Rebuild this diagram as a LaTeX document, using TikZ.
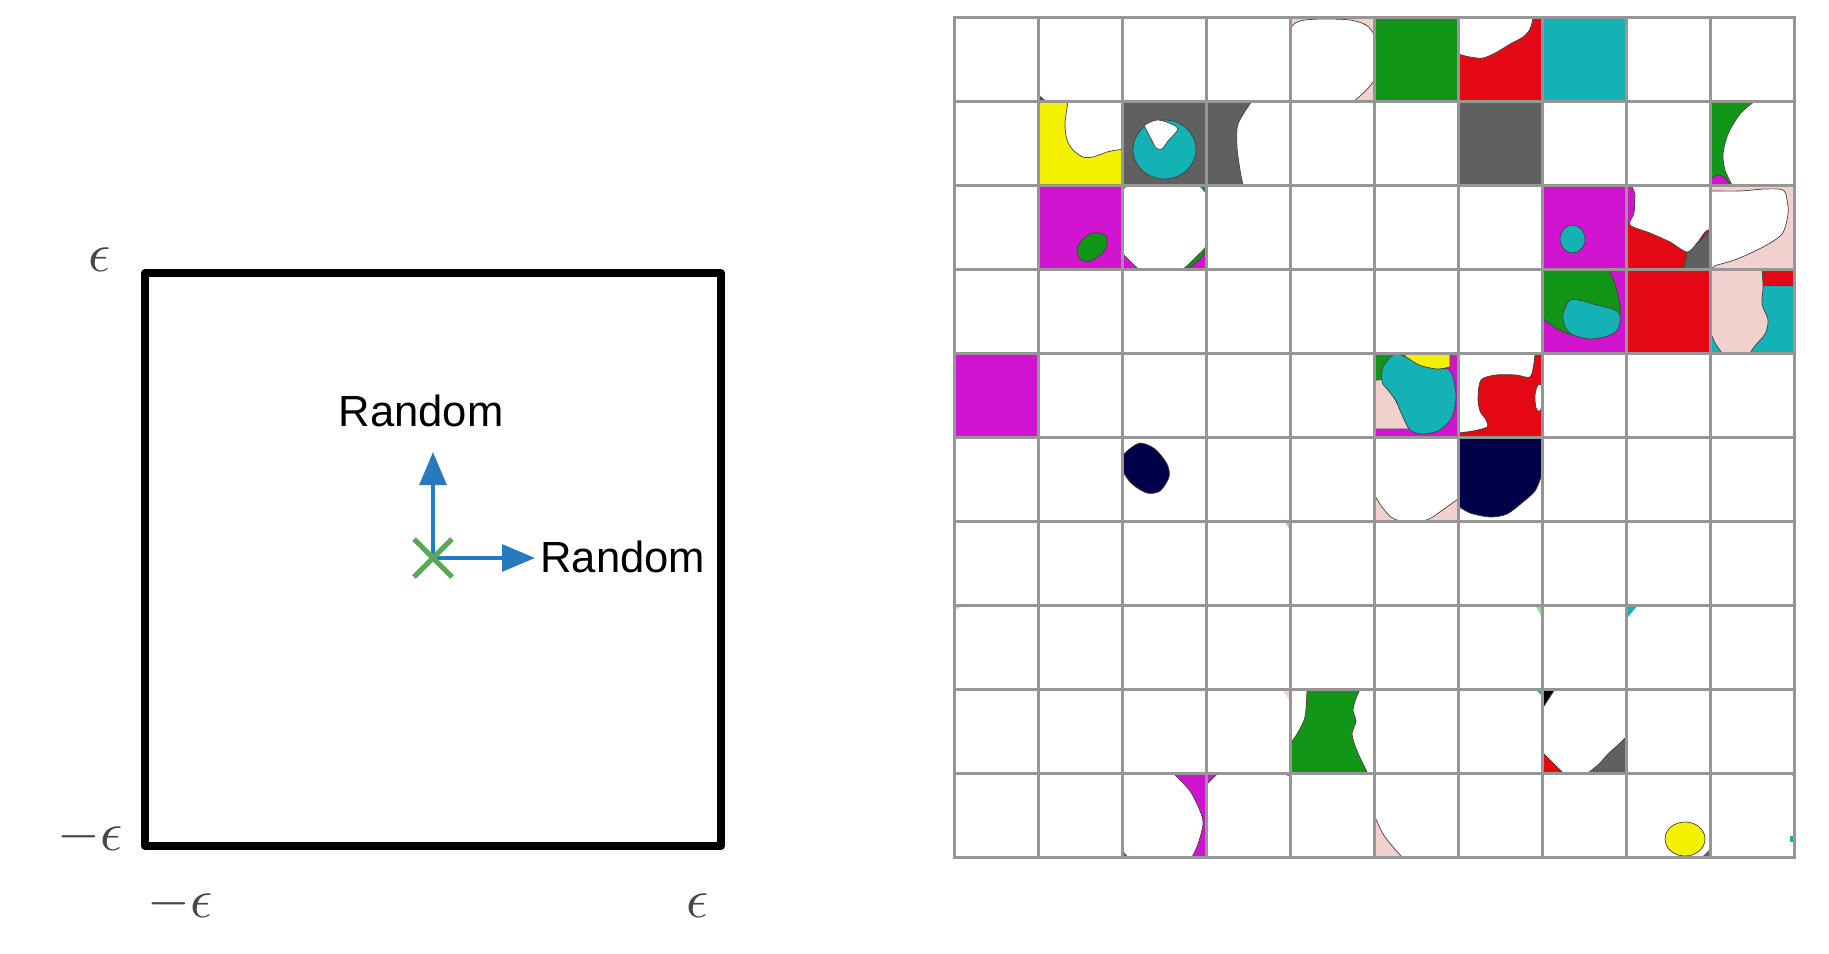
\documentclass[tikz,border=0pt]{standalone}
\usepackage{fontspec}
\setmainfont{Liberation Sans}
\usetikzlibrary{arrows.meta}
\definecolor{pinkc}{RGB}{242,208,206}
\definecolor{greenc}{RGB}{18,150,24}
\definecolor{redc}{RGB}{228,8,20}
\definecolor{tealc}{RGB}{20,178,180}
\definecolor{yellowc}{RGB}{244,240,0}
\definecolor{grayc}{RGB}{96,96,96}
\definecolor{magc}{RGB}{208,20,208}
\definecolor{navyc}{RGB}{0,0,72}
\definecolor{lightgreenc}{RGB}{150,220,150}
\definecolor{gridgray}{RGB}{150,150,150}
\definecolor{arrowblue}{RGB}{40,122,190}
\definecolor{markgreen}{RGB}{88,168,88}
\definecolor{epsgray}{RGB}{70,70,70}
\tikzset{
  blob/.style={draw=black!75, line width=0.35pt},
  gridln/.style={draw=gridgray, line width=1.5pt, line cap=rect},
  boxline/.style={draw=black, line width=4pt, line join=round},
  bluearrow/.style={draw=arrowblue, line width=2pt, -{Triangle[length=16.5pt,width=13.3pt]}},
  markline/.style={draw=markgreen, line width=2.5pt},
  lbl/.style={inner sep=0pt, font=\fontsize{21.8}{24}\selectfont, text=black},
  epslbl/.style={inner sep=0pt, font=\fontsize{10}{12}\selectfont, scale=2.75, text=epsgray},
}
\begin{document}
\begin{tikzpicture}[x=0.5pt,y=-0.5pt]
\useasboundingbox (0,0) rectangle (1829,953);
\fill[white] (0,0) rectangle (1829,953);

% ---------------- left panel ----------------
\draw[boxline] (145,273) rectangle (721,846);
\coordinate (o) at (433,558);
\coordinate (tipU) at (433,452);
\coordinate (tipR) at (535,558);
\draw[bluearrow] (o) -- (tipU);
\draw[bluearrow] (o) -- (tipR);
\draw[markline] (414,539) -- (452,577);
\draw[markline] (414,577) -- (452,539);
\node[lbl, anchor=base west] (rup) at (338.3,426.7) {Random};
\node[lbl, anchor=base west] (rright) at (540,572.7) {Random};
\node[epslbl] (etop) at (100,259.5) {$\epsilon$};
\node[epslbl] (eleft) at (90,837) {$-\epsilon$};
\node[epslbl] (ebl) at (180.5,904) {$-\epsilon$};
\node[epslbl] (ebr) at (698,906) {$\epsilon$};

% ---------------- right panel: cells ----------------
% row 0
\begin{scope}[shift={(1038,17)}]\clip (0,0) rectangle (84,84);
\fill[black!70] (0,77) -- (8,84) -- (0,84) -- cycle;
\end{scope}
\begin{scope}[shift={(1290,17)}]\clip (0,0) rectangle (84,84);
\fill[pinkc] (0,0) rectangle (84,84);
\path[blob, fill=white] plot[smooth cycle] coordinates {(-4,20) (4,7) (15,3) (35,2) (60,3) (76,8) (84,18) (86,35) (86,58) (80,69) (70,79) (58,88) (40,93) (10,93) (-5,80) (-5,40)};
\end{scope}
\begin{scope}[shift={(1374,17)}]\clip (0,0) rectangle (84,84);
\fill[greenc] (0,0) rectangle (84,84);
\end{scope}
\begin{scope}[shift={(1458,17)}]\clip (0,0) rectangle (84,84);
\fill[redc] (0,0) rectangle (84,84);
\path[blob, fill=white] (-3,-3) -- (-3,37) -- plot[smooth] coordinates {(0,37) (12,40) (25,41) (39,35) (52,27) (65,20) (72,12) (75,1) (75,-3)} -- cycle;
\end{scope}
\begin{scope}[shift={(1542,17)}]\clip (0,0) rectangle (84,84);
\fill[tealc] (0,0) rectangle (84,84);
\end{scope}
% row 1
\begin{scope}[shift={(1038,101)}]\clip (0,0) rectangle (84,84);
\fill[yellowc] (0,0) rectangle (84,84);
\path[blob, fill=white] (30,-3) -- plot[smooth] coordinates {(30,0) (27,23) (29,39) (35,49) (45,56) (55,56) (69,51) (79,49) (88,48)} -- (88,-3) -- cycle;
\end{scope}
\begin{scope}[shift={(1122,101)}]\clip (0,0) rectangle (84,84);
\fill[grayc] (0,0) rectangle (84,84);
\path[blob, fill=tealc] (42.5,48.5) ellipse [x radius=15.75pt, y radius=14.75pt];
\path[blob, fill=white] plot[smooth cycle] coordinates {(23,24) (35,19) (47,22) (56,28) (46,40) (40,48) (34,47) (29,38) (25,30)};
\end{scope}
\begin{scope}[shift={(1206,101)}]\clip (0,0) rectangle (84,84);
\fill[grayc] (0,0) rectangle (84,84);
\path[blob, fill=white] (48,-3) -- plot[smooth] coordinates {(46,0) (32,23) (31,46) (34,69) (37,84)} -- (37,88) -- (88,88) -- (88,-3) -- cycle;
\end{scope}
\begin{scope}[shift={(1458,101)}]\clip (0,0) rectangle (84,84);
\fill[grayc] (0,0) rectangle (84,84);
\end{scope}
\begin{scope}[shift={(1710,101)}]\clip (0,0) rectangle (84,84);
\fill[greenc] (0,0) rectangle (84,84);
\path[blob, fill=magc] (-3,88) -- (-3,78) -- plot[smooth] coordinates {(0,78) (9,74) (17,79) (21,86)} -- cycle;
\path[blob, fill=white] (46,-3) -- plot[smooth] coordinates {(45,0) (30,13) (18,33) (13,53) (15,69) (22,84)} -- (23,88) -- (88,88) -- (88,-3) -- cycle;
\end{scope}
% row 2
\begin{scope}[shift={(1038,185)}]\clip (0,0) rectangle (84,84);
\fill[magc] (0,0) rectangle (84,84);
\path[blob, fill=greenc] plot[smooth cycle] coordinates {(55,48) (67,50) (69,59) (64,69) (52,76) (43,75) (39,65) (44,55)};
\end{scope}
\begin{scope}[shift={(1122,185)}]\clip (0,0) rectangle (84,84);
\fill[magc] (0,0) rectangle (84,84);
\path[blob, fill=greenc] (40,-3) -- (88,-3) -- (88,62) -- plot[smooth] coordinates {(84,65) (79,73) (71,80) (63,85)} -- (62,88) -- (40,88) -- cycle;
\path[blob, fill=white] plot[smooth cycle] coordinates {(9,-1) (40,-2) (73,-1) (85,11) (86,35) (85,59) (74,72) (59,85) (40,86) (19,85) (6,74) (-1,64) (-2,35) (-1,9)};
\end{scope}
\begin{scope}[shift={(1542,185)}]\clip (0,0) rectangle (84,84);
\fill[magc] (0,0) rectangle (84,84);
\path[blob, fill=tealc] (30.5,54) ellipse [x radius=6.25pt, y radius=7pt];
\end{scope}
\begin{scope}[shift={(1626,185)}]\clip (0,0) rectangle (84,84);
\fill[redc] (0,0) rectangle (84,84);
\path[blob, fill=grayc] (57,88) -- (61,67) -- (75,55) -- (88,40) -- (88,88) -- cycle;
\path[blob, fill=magc] (-3,-3) -- (10,-3) -- (9,10) -- (8,28) -- (4,38) -- (-3,40) -- cycle;
\path[blob, fill=white] plot[smooth cycle] coordinates {(10,-8) (9,10) (8,28) (4,40) (24,48) (44,57) (61,67) (71,58) (79,47) (88,38) (90,-8)};
\end{scope}
\begin{scope}[shift={(1710,185)}]\clip (0,0) rectangle (84,84);
\fill[pinkc] (0,0) rectangle (84,84);
\path[blob, fill=white] plot[smooth cycle] coordinates {(-6,6) (3,6) (30,6) (55,4) (73,5) (77,15) (78,29) (72,49) (53,62) (27,74) (7,80) (-6,82)};
\end{scope}
% row 3
\begin{scope}[shift={(1542,269)}]\clip (0,0) rectangle (84,84);
\fill[magc] (0,0) rectangle (84,84);
\path[blob, fill=greenc] (-3,-3) -- (66,-3) -- plot[smooth] coordinates {(66,0) (73,15) (77,31) (79,45)} -- (60,60) -- plot[smooth] coordinates {(30,66) (15,60) (0,49)} -- (-3,48) -- cycle;
\path[blob, fill=tealc] plot[smooth cycle] coordinates {(28,31) (41,32) (55,36) (71,40) (78,46) (76,60) (66,67) (48,70) (31,66) (23,58) (21,45)};
\end{scope}
\begin{scope}[shift={(1626,269)}]\clip (0,0) rectangle (84,84);
\fill[redc] (0,0) rectangle (84,84);
\end{scope}
\begin{scope}[shift={(1710,269)}]\clip (0,0) rectangle (84,84);
\fill[tealc] (0,0) rectangle (84,84);
\path[blob, fill=redc] (52,-3) -- (52,16) -- (88,16) -- (88,-3) -- cycle;
\path[blob, fill=pinkc] (-3,-3) -- (52,-3) -- plot[smooth] coordinates {(52,0) (53,18) (52,35) (58,51) (55,65) (44,78) (38,88)} -- (13,88) -- plot[smooth] coordinates {(12,84) (5,74) (0,62)} -- (-3,60) -- cycle;
\end{scope}
% row 4
\begin{scope}[shift={(954,353)}]\clip (0,0) rectangle (84,84);
\fill[magc] (0,0) rectangle (84,84);
\end{scope}
\begin{scope}[shift={(1374,353)}]\clip (0,0) rectangle (84,84);
\fill[magc] (0,0) rectangle (84,84);
\path[blob, fill=greenc] (-3,-3) -- (30,-3) -- (10,30) -- (-3,35) -- cycle;
\path[blob, fill=pinkc] (-3,26) -- plot[smooth] coordinates {(0,28) (8,27) (16,37) (23,50) (30,63) (36,76)} -- (-3,76) -- cycle;
\path[blob, fill=yellowc] (29,-3) -- (76,-3) -- (76,14) -- (62,17) -- (45,13) -- (32,5) -- cycle;
\path[blob, fill=tealc] plot[smooth cycle] coordinates {(19,2) (30,3) (45,12) (62,16) (74,16) (79,24) (82,44) (78,64) (66,77) (49,81) (36,77) (28,62) (22,48) (14,37) (8,29) (9,14)};
\end{scope}
\begin{scope}[shift={(1458,353)}]\clip (0,0) rectangle (84,84);
\path[blob, fill=redc] (88,-3) -- (88,88) -- (-3,88) -- (-3,80) -- plot[smooth] coordinates {(0,80) (15,78) (29,74) (28,67) (22,58) (20,45) (23,27) (38,22) (58,22) (72,24) (76,10) (77,0)} -- (77,-3) -- cycle;
\path[blob, fill=white] plot[smooth cycle] coordinates {(80,32) (77,42) (78,55) (82,58) (86,45) (85,33)};
\end{scope}
% row 5
\begin{scope}[shift={(1122,437)}]\clip (0,0) rectangle (84,84);
\path[blob, fill=navyc] plot[smooth cycle] coordinates {(5,14) (18,6) (33,12) (45,27) (47,40) (38,54) (25,56) (10,47) (1,34) (1,20)};
\end{scope}
\begin{scope}[shift={(1374,437)}]\clip (0,0) rectangle (84,84);
\fill[pinkc] (0,0) rectangle (84,84);
\path[blob, fill=white] (-3,-3) -- (88,-3) -- (88,60) -- plot[smooth] coordinates {(84,62) (70,72) (55,82) (40,85) (20,82) (8,70) (0,57)} -- (-3,55) -- cycle;
\end{scope}
\begin{scope}[shift={(1458,437)}]\clip (0,0) rectangle (84,84);
\path[blob, fill=navyc] (-3,-3) -- (88,-3) -- (88,35) -- plot[smooth] coordinates {(83,40) (77,54) (65,65) (49,77) (32,80) (12,76) (0,69)} -- (-3,67) -- cycle;
\end{scope}
% row 6 and 7 specks
\begin{scope}[shift={(1206,521)}]\clip (0,0) rectangle (84,84);
\fill[lightgreenc] (78,0) -- (84,0) -- (84,9) -- cycle;
\end{scope}
\begin{scope}[shift={(954,605)}]\clip (0,0) rectangle (84,84);
\fill[pinkc] (0,0) -- (11,0) -- (0,6) -- cycle;
\end{scope}
\begin{scope}[shift={(1458,605)}]\clip (0,0) rectangle (84,84);
\fill[lightgreenc] (77,0) -- (84,0) -- (84,12) -- cycle;
\end{scope}
\begin{scope}[shift={(1626,605)}]\clip (0,0) rectangle (84,84);
\fill[tealc] (0,0) -- (12,0) -- (2,12) -- (0,10) -- cycle;
\end{scope}
% row 8
\begin{scope}[shift={(1206,689)}]\clip (0,0) rectangle (84,84);
\fill[pinkc] (76,0) -- (84,0) -- (84,12) -- cycle;
\end{scope}
\begin{scope}[shift={(1290,689)}]\clip (0,0) rectangle (84,84);
\path[blob, fill=greenc] (17,-3) -- plot[smooth] coordinates {(17,0) (15,28) (7,45) (0,55)} -- (-3,57) -- (-3,88) -- (78,88) -- plot[smooth] coordinates {(77,83) (67,62) (62,45) (66,32) (63,22) (65,12) (70,0)} -- (71,-3) -- cycle;
\end{scope}
\begin{scope}[shift={(1458,689)}]\clip (0,0) rectangle (84,84);
\fill[tealc] (77,0) -- (84,0) -- (84,7) -- cycle;
\end{scope}
\begin{scope}[shift={(1542,689)}]\clip (0,0) rectangle (84,84);
\path[blob, fill=black] (-3,-3) -- (14,-3) -- (13,0) -- (2,17) -- (-3,17) -- cycle;
\path[blob, fill=redc] (-3,60) -- (0,63) -- (21,84) -- (22,88) -- (-3,88) -- cycle;
\path[blob, fill=grayc] (45,88) -- plot[smooth] coordinates {(46,84) (57,75) (66,65) (76,56) (84,48)} -- (88,46) -- (88,88) -- cycle;
\end{scope}
% row 9
\begin{scope}[shift={(1122,773)}]\clip (0,0) rectangle (84,84);
\fill[magc] (0,0) rectangle (84,84);
\path[blob, fill=white] (-3,-3) -- (50,-3) -- plot[smooth] coordinates {(51,0) (68,18) (78,38) (81,51) (76,71) (70,84)} -- (69,88) -- (9,88) -- (-3,74) -- cycle;
\end{scope}
\begin{scope}[shift={(1206,773)}]\clip (0,0) rectangle (84,84);
\path[blob, fill=magc] (-3,-3) -- (13,-3) -- (12,0) -- (2,10) -- (-3,11) -- cycle;
\fill[magc] (77,0) -- (84,0) -- (84,4) -- cycle;
\end{scope}
\begin{scope}[shift={(1374,773)}]\clip (0,0) rectangle (84,84);
\path[blob, fill=pinkc] (-3,40) -- plot[smooth] coordinates {(1,44) (9,61) (19,74) (28,84)} -- (29,88) -- (-3,88) -- cycle;
\end{scope}
\begin{scope}[shift={(1626,773)}]\clip (0,0) rectangle (84,84);
\path[blob, fill=yellowc] (59,66) ellipse [x radius=10pt, y radius=8.5pt];
\fill[grayc] (76,84) -- (84,76) -- (84,84) -- cycle;
\end{scope}
\begin{scope}[shift={(1710,773)}]\clip (0,0) rectangle (84,84);
\fill[tealc] (80,63) rectangle (84,69);
\fill[magc] (80,0) -- (84,0) -- (84,4) -- cycle;
\end{scope}

% ---------------- grid lines ----------------
\foreach \i in {0,...,10} {
  \draw[gridln] ({954+84*\i},17) -- ({954+84*\i},857);
  \draw[gridln] (954,{17+84*\i}) -- (1794,{17+84*\i});
}
\end{tikzpicture}
\end{document}
